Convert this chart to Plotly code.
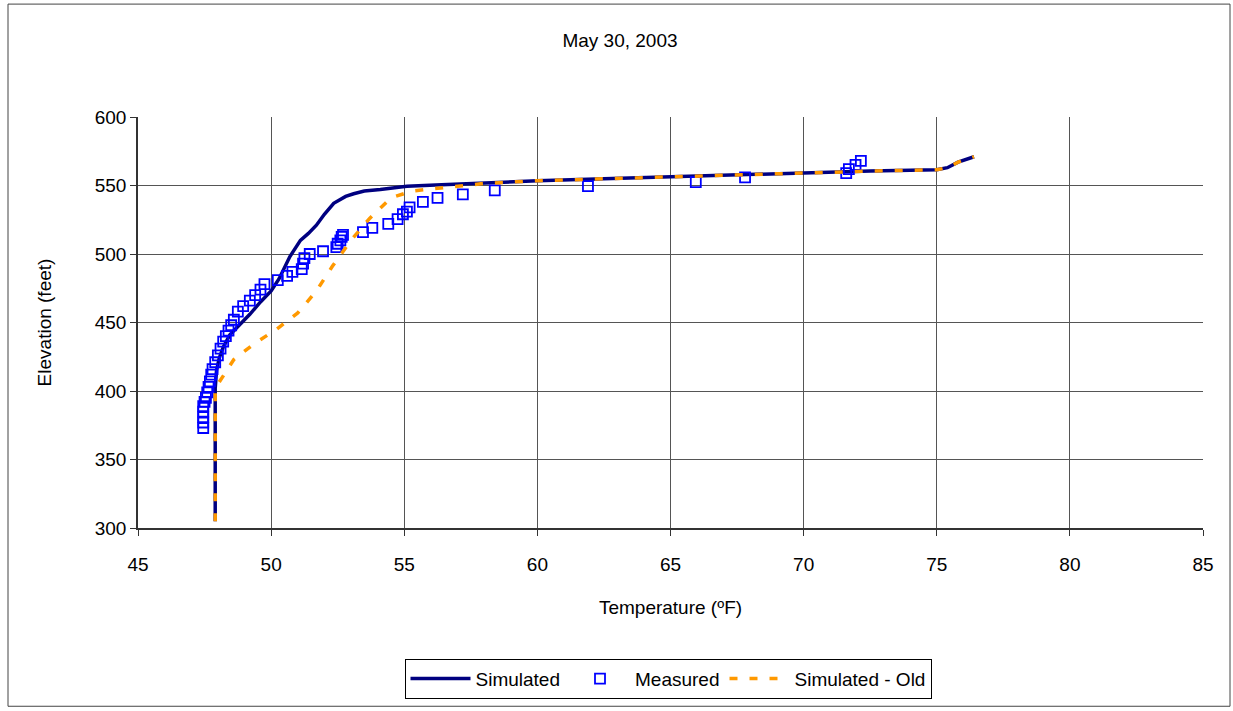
import plotly.graph_objects as go

# Simulated (current model)
sim_temp = [47.9, 47.9, 47.9, 47.95, 48.05, 48.2, 48.45, 48.8, 49.2, 49.6, 50.0, 50.3,
            50.7, 51.1, 51.4, 51.7, 52.0, 52.35, 52.8, 53.1, 53.5, 54.1, 55.1, 56.4,
            58.0, 60.0, 62.5, 65.0, 67.5, 70.0, 72.5, 75.0, 75.4, 75.8, 76.1, 76.4]
sim_elev = [305, 380, 402, 415, 424, 432, 441, 448, 456, 465, 473, 482,
            498, 510, 515, 521, 529, 537, 542, 544, 546, 547, 549.4, 550.5,
            552, 553.5, 555, 556.5, 558, 559.5, 560.5, 561.5, 563, 567, 569, 571]

# Measured profile
meas_temp = [47.45, 47.45, 47.45, 47.45, 47.45, 47.5, 47.55, 47.6, 47.65, 47.7, 47.75,
             47.8, 47.9, 48.0, 48.1, 48.2, 48.3, 48.4, 48.5, 48.6, 48.75, 48.95, 49.2,
             49.4, 49.6, 49.75, 50.25, 50.6, 50.8, 51.15, 51.2, 51.25, 51.45, 51.95,
             52.45, 52.5, 52.6, 52.65, 52.7, 53.45, 53.8, 54.4, 54.75, 54.95, 55.1, 55.2,
             55.7, 56.25, 57.2, 58.4, 61.9, 65.95, 67.8, 71.6, 71.7, 71.95, 72.15]
meas_elev = [373, 377, 381, 385, 389, 392, 395, 399, 403, 407, 412,
             416, 421, 426, 431, 436, 440, 444, 448, 452, 458, 462, 466,
             470, 474, 478, 481, 484, 487, 489, 493, 497, 500, 502,
             505, 507.5, 510, 512.5, 514, 516, 519, 522, 525.5, 529, 531, 534,
             538, 541, 543.5, 546.5, 549.5, 552.5, 556, 559, 562, 565, 568]

# Simulated - Old
old_temp = [47.9, 47.9, 48.0, 48.6, 49.4, 50.2, 51.0, 51.7, 52.3, 53.0, 53.7, 54.5,
            55.3, 56.1, 57.0, 58.0, 60.0, 62.5, 65.0, 67.5, 70.0, 72.5, 75.0, 75.4,
            75.8, 76.1, 76.4]
old_elev = [305, 400, 405, 423, 435, 445, 457, 473, 491, 510, 526, 541,
            546, 547.5, 549, 551.5, 553.5, 555, 556.5, 558, 559.5, 560.5, 561.5, 563,
            567, 569, 571]

x_ticks = [45, 50, 55, 60, 65, 70, 75, 80, 85]
y_ticks = [300, 350, 400, 450, 500, 550, 600]

FONT = "Liberation Sans, Arial, sans-serif"

fig = go.Figure()
fig.add_trace(go.Scatter(x=sim_temp, y=sim_elev, mode="lines", name="Simulated",
                         line=dict(color="#000080", width=3.5)))
fig.add_trace(go.Scatter(x=meas_temp, y=meas_elev, mode="markers", name="Measured",
                         marker=dict(symbol="square-open", size=10, color="#0000FF",
                                     line=dict(width=1.8, color="#0000FF"))))
fig.add_trace(go.Scatter(x=old_temp, y=old_elev, mode="lines", name="Simulated - Old",
                         line=dict(color="#FF9900", width=3.5, dash="8px,12px")))

W, H = 1233, 711
L, R, T, B = 138, 30, 117, 179
pw, ph = W - L - R, H - T - B

def px2paper_x(px):
    return (px - L) / pw

def px2paper_y(py):
    return (H - B - py) / ph

fig.update_layout(
    width=W, height=H,
    margin=dict(l=L, r=R, t=T, b=B),
    paper_bgcolor="white", plot_bgcolor="white",
    font=dict(family=FONT, size=18, color="black"),
    title=dict(text="May 30, 2003", x=620 / W, xref="container", y=1 - 40 / H,
               yref="container", yanchor="middle", xanchor="center",
               font=dict(size=19, family=FONT)),
    showlegend=True,
    legend=dict(orientation="h", x=px2paper_x(668), xanchor="center",
                y=px2paper_y(664), yanchor="top",
                bordercolor="black", borderwidth=1, bgcolor="white",
                font=dict(size=19, family=FONT), itemwidth=60),
    xaxis=dict(range=[45, 85], tickvals=x_ticks, showgrid=True, gridcolor="#555555",
               gridwidth=1, zeroline=False, showline=True, linecolor="#333333", linewidth=2,
               ticks="outside", ticklen=6, tickcolor="#333333", ticklabelstandoff=12,
               tickfont=dict(size=19),
               title=dict(text="Temperature (ºF)", standoff=27, font=dict(size=19))),
    yaxis=dict(range=[300, 600], tickvals=y_ticks, showgrid=True, gridcolor="#555555",
               gridwidth=1, zeroline=False, showline=True, linecolor="#333333", linewidth=1.5,
               ticks="outside", ticklen=6, tickcolor="#333333",
               tickfont=dict(size=19),
               title=dict(text="Elevation (feet)", standoff=38, font=dict(size=19))),
)

# outer chart frame
fig.add_shape(type="rect", xref="paper", yref="paper",
              x0=px2paper_x(8), x1=px2paper_x(1230), y0=px2paper_y(712), y1=px2paper_y(3),
              line=dict(color="#444444", width=1), layer="below")

fig.write_html("out.html")
